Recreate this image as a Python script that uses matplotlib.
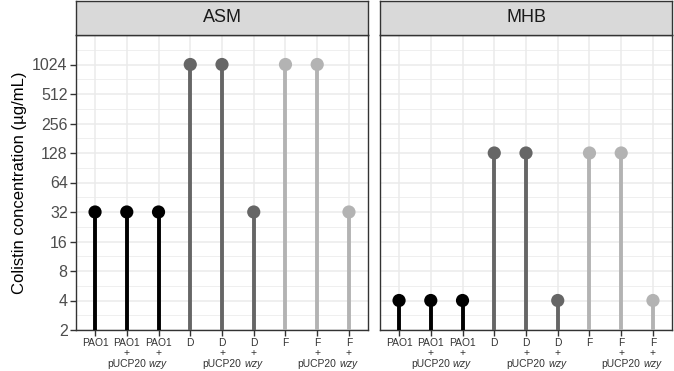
import matplotlib
matplotlib.use("Agg")
import matplotlib.pyplot as plt
from matplotlib.ticker import FixedLocator, NullFormatter
import numpy as np

plt.rcParams['font.family'] = ['Liberation Sans', 'DejaVu Sans']
plt.rcParams['mathtext.fontset'] = 'custom'
plt.rcParams['mathtext.it'] = 'Liberation Sans:italic'
plt.rcParams['mathtext.rm'] = 'Liberation Sans'

panels = ["ASM", "MHB"]
strains = ["PAO1", "PAO1\n+\npUCP20", "PAO1\n+\n$\\mathit{wzy}$",
           "D", "D\n+\npUCP20", "D\n+\n$\\mathit{wzy}$",
           "F", "F\n+\npUCP20", "F\n+\n$\\mathit{wzy}$"]
groups = ["PAO1", "PAO1", "PAO1", "D", "D", "D", "F", "F", "F"]
asm_values = [32, 32, 32, 1024, 1024, 32, 1024, 1024, 32]
mhb_values = [4, 4, 4, 128, 128, 4, 128, 128, 4]
y_ticks = [2, 4, 8, 16, 32, 64, 128, 256, 512, 1024]
group_colors = {"PAO1": "#000000", "D": "#666666", "F": "#b3b3b3"}

W, H = 674, 371
fig = plt.figure(figsize=(W / 100, H / 100), dpi=100)

def fx(px):
    return px / W

def fy(px):
    return 1 - px / H

panel_left = [76, 380]
panel_w = 292
top, bottom = 35, 330
strip_top = 1

for i, (name, vals) in enumerate(zip(panels, [asm_values, mhb_values])):
    ax = fig.add_axes([fx(panel_left[i]), fy(bottom), panel_w / W, (bottom - top) / H])
    ax.set_yscale('log', base=2)
    ax.set_ylim(2, 2048)
    x = np.arange(1, len(strains) + 1)
    ax.set_xlim(0.4, len(strains) + 0.6)
    ax.yaxis.set_major_locator(FixedLocator(y_ticks))
    minors = [2 ** (k + 0.5) for k in range(1, 11)]
    ax.yaxis.set_minor_locator(FixedLocator(minors))
    ax.yaxis.set_minor_formatter(NullFormatter())
    ax.set_xticks(x)
    ax.set_xticklabels(strains, fontsize=7.4, linespacing=1.1, color='#333333')
    ax.grid(True, which='major', color='#ebebeb', lw=1.1, zorder=0)
    ax.grid(True, which='minor', axis='y', color='#ebebeb', lw=0.55, zorder=0)
    ax.set_axisbelow(True)
    for s in ax.spines.values():
        s.set_color('#333333')
        s.set_linewidth(1.0)
    ax.tick_params(axis='both', which='major', length=4, width=1.0, color='#333333', pad=2)
    ax.tick_params(axis='x', which='major', pad=1.5)
    ax.tick_params(axis='y', which='minor', length=0)
    if i == 0:
        ax.set_yticklabels([str(t) for t in y_ticks], fontsize=11.5, color='#4d4d4d')
        ax.set_ylabel("Colistin concentration (µg/mL)", fontsize=12, labelpad=4)
    else:
        ax.set_yticklabels([])
        ax.tick_params(axis='y', which='major', length=0)
    cols = [group_colors[g] for g in groups]
    ax.vlines(x, 2, vals, colors=cols, lw=2.8, zorder=3)
    ax.scatter(x, vals, s=9.5 ** 2, c=cols, zorder=4, linewidths=0)

    sax = fig.add_axes([fx(panel_left[i]), fy(top), panel_w / W, (top - strip_top) / H])
    sax.set_facecolor('#d9d9d9')
    sax.set_xticks([])
    sax.set_yticks([])
    for s in sax.spines.values():
        s.set_color('#333333')
        s.set_linewidth(1.0)
    sax.text(0.5, 0.5, name, ha='center', va='center', fontsize=13, color='#1a1a1a',
             transform=sax.transAxes)

fig.savefig("out.png", dpi=100)
